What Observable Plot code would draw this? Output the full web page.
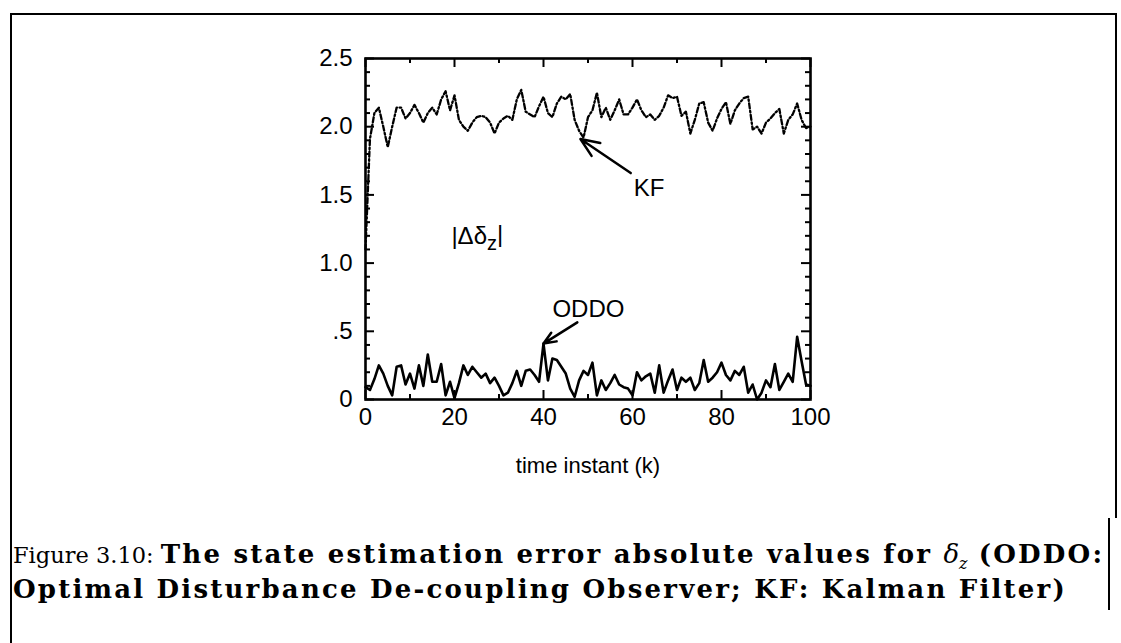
<!DOCTYPE html>
<html><head><meta charset="utf-8">
<script src="https://cdn.jsdelivr.net/npm/d3@7"></script>
<script src="https://cdn.jsdelivr.net/npm/@observablehq/plot@0.6"></script>
<style>
body{margin:0;background:#fff;}
#page{position:relative;width:1121px;height:643px;overflow:hidden;background:#fff;}
#chart{position:absolute;left:0;top:0;}
.xlabel{position:absolute;left:438px;width:300px;text-align:center;top:453px;font:22px "Liberation Sans",Arial,sans-serif;color:#000;}
.cap{position:absolute;left:13px;font-family:"DejaVu Serif",serif;height:35px;line-height:35px;white-space:nowrap;color:#000;}
.cap .reg{font-size:22.5px;font-weight:normal;}
.cap .bold{font-size:26px;font-weight:bold;letter-spacing:2.2px;}
.cap .sub{font-size:16px;position:relative;top:6px;font-style:italic;font-weight:normal;letter-spacing:0;}
.ln{position:absolute;background:#000;}
</style></head>
<body><div id="page">
<div id="chart"></div>
<div class="xlabel">time instant (k)</div>
<div class="cap" style="top:537px"><span class="reg">Figure 3.10: </span><span class="bold">The state estimation error absolute values for <i style="font-weight:normal;letter-spacing:0">δ</i><span class="sub">z</span> (ODDO:</span></div>
<div class="cap" style="top:572px"><span class="bold">Optimal Disturbance De-coupling Observer; KF: Kalman Filter)</span></div>
<div class="ln" style="left:10px;top:13px;width:1107px;height:2px"></div>
<div class="ln" style="left:10px;top:13px;width:2px;height:630px"></div>
<div class="ln" style="left:1115px;top:13px;width:2px;height:505px"></div>
<div class="ln" style="left:1108px;top:518px;width:2px;height:92px"></div>
</div>
<script>
// ---- data (k = 0..100) ----
const kfValues = [1.10,1.91,2.10,2.14,2.00,1.85,2.00,2.14,2.14,2.06,
 2.10,2.16,2.10,2.03,2.10,2.14,2.09,2.20,2.26,2.12,
 2.23,2.05,2.00,1.97,2.03,2.07,2.08,2.07,2.03,1.95,
 2.03,2.06,2.08,2.05,2.20,2.27,2.11,2.09,2.07,2.15,
 2.22,2.10,2.07,2.17,2.22,2.20,2.24,2.05,1.97,1.92,
 2.07,2.12,2.25,2.07,2.14,2.05,2.12,2.20,2.09,2.09,
 2.14,2.20,2.12,2.07,2.09,2.05,2.08,2.14,2.23,2.21,
 2.22,2.08,2.11,1.95,2.05,2.17,2.18,2.03,1.97,2.06,
 2.13,2.18,2.02,2.12,2.17,2.21,2.22,1.98,2.00,1.95,
 2.03,2.06,2.10,2.13,1.95,2.05,2.09,2.17,2.05,1.99,2.00];
const oddoValues = [0.09,0.07,0.15,0.25,0.19,0.10,0.03,0.24,0.25,0.11,
 0.19,0.08,0.25,0.10,0.33,0.13,0.13,0.26,0.03,0.13,
 0.01,0.12,0.25,0.18,0.24,0.20,0.16,0.19,0.12,0.16,
 0.10,0.03,0.05,0.12,0.21,0.10,0.21,0.22,0.18,0.13,
 0.41,0.14,0.30,0.29,0.24,0.19,0.08,0.02,0.14,0.21,
 0.18,0.27,0.03,0.14,0.07,0.12,0.18,0.11,0.09,0.08,
 0.03,0.20,0.14,0.17,0.19,0.05,0.25,0.05,0.14,0.22,
 0.07,0.16,0.13,0.16,0.07,0.12,0.29,0.13,0.16,0.20,
 0.27,0.18,0.14,0.21,0.18,0.24,0.05,0.11,0.00,0.05,
 0.14,0.09,0.26,0.07,0.13,0.19,0.13,0.46,0.28,0.11,0.10];
const xTicks = [0,20,40,60,80,100];
const xMinor = [10,30,50,70,90];
const yTicks = [0,0.5,1,1.5,2,2.5];
const yTickLabels = ["0",".5","1.0","1.5","2.0","2.5"];
const yMinor = [0.1,0.2,0.3,0.4,0.6,0.7,0.8,0.9,1.1,1.2,1.3,1.4,1.6,1.7,1.8,1.9,2.1,2.2,2.3,2.4];
const labels = [
 {text:"KF", k:60.3, v:1.55},
 {text:"ODDO", k:42.0, v:0.66},
 {text:"|Δδz|", k:19.3, v:1.20}
];
const arrows = [
 {k1:59.6, v1:1.66, k2:48.3, v2:1.91},
 {k1:47.6, v1:0.565, k2:40.0, v2:0.41}
];

const kfData = kfValues.map((v,i)=>({k:i, v}));
const oddoData = oddoValues.map((v,i)=>({k:i, v}));
const labelMap = new Map(yTicks.map((t,i)=>[t, yTickLabels[i]]));

const W=1121, H=500, ML=365, MR=311, MT=58, MB=101;
const fw = W-ML-MR, fh = H-MT-MB;
const maj = 9, mnr = 5;

const chart = Plot.plot({
  width:W, height:H, marginLeft:ML, marginRight:MR, marginTop:MT, marginBottom:MB,
  style:{fontFamily:'"Liberation Sans", Arial, sans-serif', fontSize:"24px", color:"#000", background:"transparent", overflow:"visible"},
  x:{domain:[0,100]},
  y:{domain:[0,2.5]},
  marks:[
    Plot.lineY(kfData,{x:"k", y:"v", stroke:"#000", strokeWidth:2.3, strokeDasharray:"5,2.5,1.6,2.5"}),
    Plot.lineY(oddoData,{x:"k", y:"v", stroke:"#000", strokeWidth:2.6}),
    Plot.tickY(yTicks,{y:d=>d, insetRight:fw-maj, stroke:"#000", strokeWidth:2}),
    Plot.tickY(yMinor,{y:d=>d, insetRight:fw-mnr, stroke:"#000", strokeWidth:2}),
    Plot.tickY(yTicks,{y:d=>d, insetLeft:fw-maj, stroke:"#000", strokeWidth:2}),
    Plot.tickY(yMinor,{y:d=>d, insetLeft:fw-mnr, stroke:"#000", strokeWidth:2}),
    Plot.tickX(xTicks,{x:d=>d, insetTop:fh-maj, stroke:"#000", strokeWidth:2}),
    Plot.tickX(xMinor,{x:d=>d, insetTop:fh-mnr, stroke:"#000", strokeWidth:2}),
    Plot.tickX(xTicks,{x:d=>d, insetBottom:fh-maj, stroke:"#000", strokeWidth:2}),
    Plot.tickX(xMinor,{x:d=>d, insetBottom:fh-mnr, stroke:"#000", strokeWidth:2}),
    Plot.frame({stroke:"#000", strokeWidth:2.6}),
    Plot.axisX(xTicks,{tickSize:0, tickPadding:8, label:null, fontSize:24, fill:"#000"}),
    Plot.axisY(yTicks,{tickSize:0, tickPadding:13, label:null, tickFormat:d=>labelMap.get(d), fontSize:24, fill:"#000"}),
    Plot.text(labels,{x:"k", y:"v", text:"text", textAnchor:"start", fontSize:24, fill:"#000"}),
    Plot.arrow(arrows,{x1:"k1", y1:"v1", x2:"k2", y2:"v2", stroke:"#000", strokeWidth:2.5, headLength:14, headAngle:45})
  ]
});
document.getElementById("chart").appendChild(chart);
// subscript for |Δδz|
d3.select(chart).selectAll("text").each(function(){
  if (this.textContent === "|Δδz|") {
    const t = d3.select(this);
    t.text(null);
    t.append("tspan").text("|Δδ");
    t.append("tspan").attr("dy","0.3em").attr("font-size","20").text("z");
    t.append("tspan").attr("dy","-0.3em").text("|");
  }
});
</script>
</body></html>
